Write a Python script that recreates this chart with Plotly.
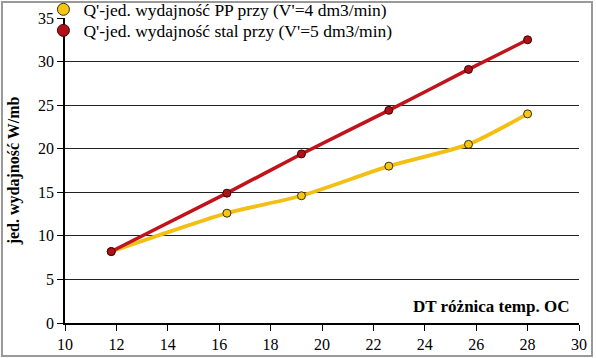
import plotly.graph_objects as go

dt = [11.8, 16.3, 19.2, 22.6, 25.7, 28.0]
pp = [8.2, 12.6, 14.6, 18.0, 20.5, 24.0]
stal = [8.2, 14.9, 19.4, 24.4, 29.1, 32.5]

name_pp = "Q'-jed. wydajność PP przy (V'=4 dm3/min)"
name_stal = "Q'-jed. wydajność stal przy (V'=5 dm3/min)"

font_serif = "Times New Roman"

pp_line = "#F3BF12"
pp_marker = "#F5C518"
st_line = "#C0141C"
st_marker = "#B01018"

fig = go.Figure()
fig.add_trace(go.Scatter(
    x=dt, y=pp, name=name_pp, mode="lines+markers", showlegend=False,
    line=dict(color=pp_line, width=3.8, shape="spline", smoothing=0.6),
    marker=dict(size=8, color=pp_marker, line=dict(color="#3a3000", width=1)),
))
fig.add_trace(go.Scatter(
    x=dt, y=stal, name=name_stal, mode="lines+markers", showlegend=False,
    line=dict(color=st_line, width=3.5, shape="spline", smoothing=0.3),
    marker=dict(size=8, color=st_marker, line=dict(color="#400000", width=1)),
))
fig.add_trace(go.Scatter(
    x=[None], y=[None], name=name_pp, mode="markers", legend="legend",
    marker=dict(size=12, color=pp_marker, line=dict(color="#3a3000", width=1)),
))
fig.add_trace(go.Scatter(
    x=[None], y=[None], name=name_stal, mode="markers", legend="legend2",
    marker=dict(size=12, color=st_marker, line=dict(color="#400000", width=1)),
))

leg_common = dict(xanchor="left", yanchor="top", bgcolor="rgba(0,0,0,0)",
                  font=dict(size=17.5, family=font_serif), itemwidth=30)

fig.update_layout(
    width=596, height=358,
    margin=dict(l=65, r=17, t=18, b=35, autoexpand=False),
    paper_bgcolor="white", plot_bgcolor="white",
    font=dict(family=font_serif, size=16, color="black"),
    legend=dict(x=-0.042, y=1.087, **leg_common),
    legend2=dict(x=-0.042, y=1.018, **leg_common),
    xaxis=dict(range=[10, 30], dtick=2, showgrid=False, zeroline=False,
               showline=True, linecolor="black", linewidth=1.5,
               ticks="outside", ticklen=6, tickcolor="black",
               tickfont=dict(size=16, family=font_serif)),
    yaxis=dict(range=[0, 35], dtick=5, showgrid=True, gridcolor="#222222",
               gridwidth=1, zeroline=False,
               showline=True, linecolor="black", linewidth=1.5,
               ticks="outside", ticklen=6, tickcolor="black",
               tickfont=dict(size=16, family=font_serif),
               title=dict(text="<b>jed. wydajność W/mb</b>", standoff=14,
                          font=dict(size=16, family=font_serif))),
    showlegend=True,
)

fig.add_annotation(
    x=0.985, y=0.055, xref="paper", yref="paper", xanchor="right", yanchor="middle",
    text="<b>DT różnica temp. OC</b>", showarrow=False,
    font=dict(size=17, family=font_serif, color="black"),
)

fig.add_shape(type="rect", xref="paper", yref="paper",
              x0=-0.1226, x1=1.0253, y0=-0.108, y1=1.0525,
              line=dict(color="#999999", width=2), layer="below")

fig.write_html("out.html", config={"displayModeBar": False},
               post_script="document.body.style.margin='0';")
